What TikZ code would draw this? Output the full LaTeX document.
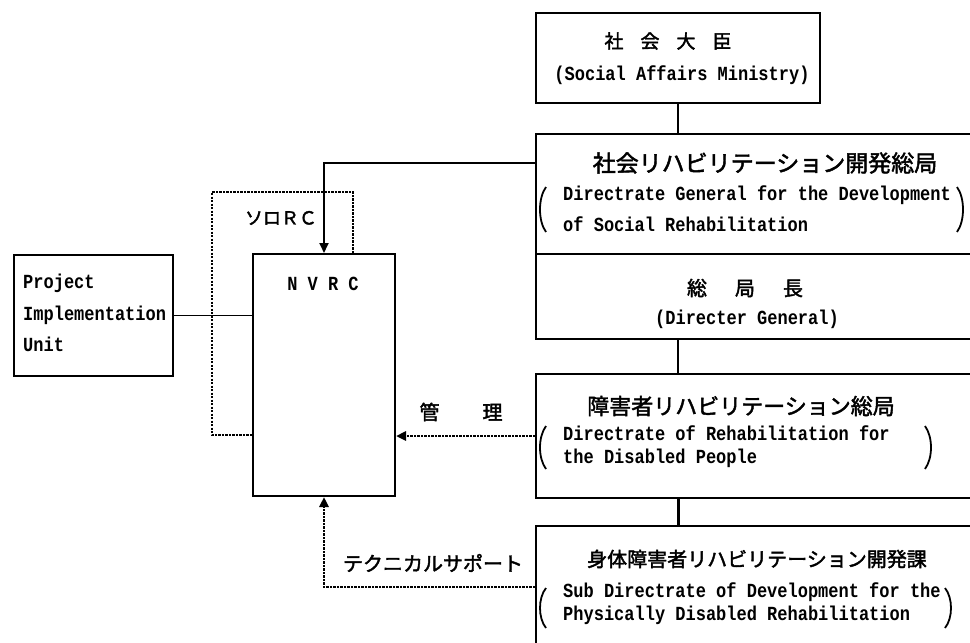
\documentclass[tikz,border=0pt]{standalone}
\usepackage{fontspec}
\setmonofont{Liberation Mono}[FakeStretch=0.85]
\newfontfamily\cjk{Noto Sans CJK JP}[FakeBold=2]
\usetikzlibrary{arrows.meta}
\begin{document}
\begin{tikzpicture}[x=1pt,y=-1pt,
 box/.style={draw,line width=2pt,inner sep=0pt,anchor=north west},
 en/.style={font=\ttfamily\bfseries\fontsize{20}{20}\selectfont,inner sep=0pt},
 jp/.style={font=\cjk\fontsize{20}{20}\selectfont,inner sep=0pt},
 conn/.style={line width=1.4pt},
 dots/.style={line width=2.6pt,dash pattern=on 2.2pt off 1.3pt},
 paren/.style={line width=1.8pt},
 tip/.style={-{Triangle[length=10pt,width=9pt]}}]
\useasboundingbox (0,0) rectangle (970,643);
\clip (0,0) rectangle (970,643);
% boxes
\node[box,minimum width=284pt,minimum height=90pt] (min) at (535,12) {};
\node[box,minimum width=460pt,minimum height=120pt] (sdg) at (535,133) {};
\node[box,minimum width=460pt,minimum height=85pt] (dg) at (535,253) {};
\node[box,minimum width=460pt,minimum height=124pt] (drd) at (535,373) {};
\node[box,minimum width=460pt,minimum height=140pt] (sdd) at (535,525) {};
\node[box,minimum width=142pt,minimum height=242pt] (nvrc) at (252,253) {};
\node[box,minimum width=159pt,minimum height=121pt] (piu) at (13,254) {};
% texts top box
\node[jp,font=\cjk\fontsize{19}{19}\selectfont] (t1) at (668,41) {社\hspace{17pt}会\hspace{17pt}大\hspace{17pt}臣};
\node[en] (t2) at (682,75) {(Social Affairs Ministry)};
% box 2
\node[jp,font=\cjk\fontsize{23}{23}\selectfont] (t3) at (765,163) {社会リハビリテーション開発総局};
\node[en,anchor=west] (t4) at (563,195) {Directrate General for the Development};
\node[en,anchor=west] (t5) at (563,224) {of Social Rehabilitation};
\draw[paren] (546,187) .. controls (538,198) and (538,221) .. (546,232);
\draw[paren] (957,187) .. controls (965,198) and (965,221) .. (957,232);
\node[jp] (t6) at (745,288) {総\hspace{28pt}局\hspace{28pt}長};
\node[en] (t7) at (747,319) {(Directer General)};
% box 3
\node[jp,font=\cjk\fontsize{22}{22}\selectfont] (t8) at (741,406) {障害者リハビリテーション総局};
\node[en,anchor=west] (t9) at (563,433) {Directrate of Rehabilitation for};
\node[en,anchor=west] (t10) at (563,458) {the Disabled People};
\draw[paren] (546,426) .. controls (538,437) and (538,458) .. (546,469);
\draw[paren] (925,426) .. controls (933,437) and (933,458) .. (925,469);
% box 4
\node[jp] (t11) at (757,559) {身体障害者リハビリテーション開発課};
\node[en,anchor=west] (t12) at (563,592) {Sub Directrate of Development for the};
\node[en,anchor=west] (t13) at (563,615) {Physically Disabled Rehabilitation};
\draw[paren] (546,588) .. controls (538,598) and (538,618) .. (546,628);
\draw[paren] (945,588) .. controls (953,598) and (953,618) .. (945,628);
% NVRC and PIU
\node[en] (t14) at (323,284) {N V R C};
\node[en,anchor=west] (t15) at (23,283) {Project};
\node[en,anchor=west] (t16) at (23,315) {Implementation};
\node[en,anchor=west] (t17) at (23,344) {Unit};
% labels
\node[jp,font=\cjk\fontsize{18}{18}\selectfont] (l1) at (281,218) {ソロＲＣ};
\node[jp] (l2) at (461,412) {管\hspace{43pt}理};
\node[jp] (l3) at (433,563) {テクニカルサポート};
% connectors
\draw[conn] (min.south) -- (min.south |- sdg.north);
\draw[conn] (dg.south -| min.south) -- (drd.north -| min.south);
\draw[line width=3pt] (drd.south -| min.south) -- (sdd.north -| min.south);
\coordinate (c1) at (535,163);
\draw[line width=1.8pt,tip] (c1) -| (nvrc.north);
\coordinate (d1) at (353,253);
\coordinate (d2) at (353,192);
\coordinate (d3) at (212,192);
\coordinate (d4) at (212,435);
\coordinate (d5) at (252,435);
\draw[dots] (d1) -- (d2) -- (d3) -- (d4) -- (d5);
\draw[line width=1.2pt] (piu.east) -- (piu.east -| nvrc.west);
\draw[dots,tip] (drd.west) -- (drd.west -| nvrc.east);
\coordinate (s1) at (535,587);
\draw[dots,tip] (s1) -| (nvrc.south);
\end{tikzpicture}
\end{document}
